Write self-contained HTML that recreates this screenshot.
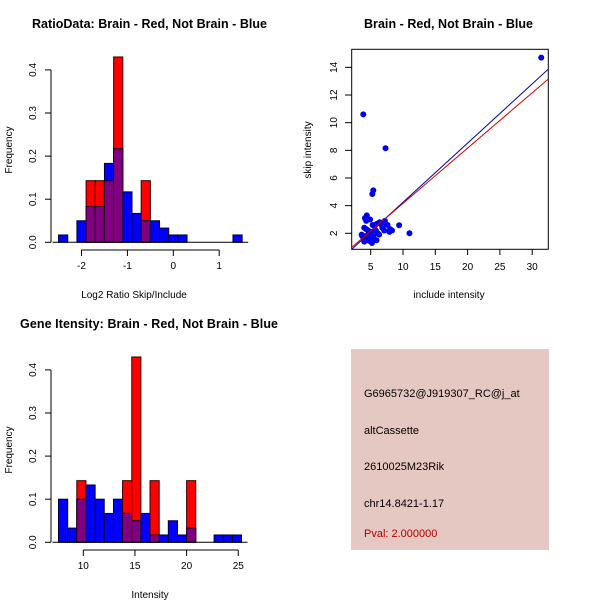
<!DOCTYPE html>
<html><head><meta charset="utf-8"><style>
body{margin:0;background:#fff;}
svg{display:block;font-family:"Liberation Sans",Arial,sans-serif;}
</style></head><body>
<svg id="c" width="600" height="600" viewBox="0 0 600 600" xmlns="http://www.w3.org/2000/svg">
<rect x="0" y="0" width="600" height="600" fill="#fff"/>
<text x="149.5" y="28" font-size="12.5" font-weight="bold" text-anchor="middle" textLength="235">RatioData: Brain - Red, Not Brain - Blue</text>
<text x="134" y="298" font-size="10" text-anchor="middle">Log2 Ratio Skip/Include</text>
<text x="12" y="150" font-size="10" text-anchor="middle" transform="rotate(-90 12 150)">Frequency</text>
<text x="448.5" y="28" font-size="12.5" font-weight="bold" text-anchor="middle" textLength="169">Brain - Red, Not Brain - Blue</text>
<text x="449" y="298" font-size="10" text-anchor="middle">include intensity</text>
<text x="311" y="150" font-size="10" text-anchor="middle" transform="rotate(-90 311 150)">skip intensity</text>
<text x="149" y="328" font-size="12.5" font-weight="bold" text-anchor="middle" textLength="258">Gene Itensity: Brain - Red, Not Brain - Blue</text>
<text x="150" y="598" font-size="10" text-anchor="middle">Intensity</text>
<text x="12" y="450" font-size="10" text-anchor="middle" transform="rotate(-90 12 450)">Frequency</text>
<rect x="351" y="349" width="198" height="201" fill="#e6c8c2"/>
<g font-size="11">
<text x="364" y="397">G6965732@J919307_RC@j_at</text>
<text x="364" y="434">altCassette</text>
<text x="364" y="470">2610025M23Rik</text>
<text x="364" y="507">chr14.8421-1.17</text>
<text x="364" y="537" fill="#b00000">Pval: 2.000000</text>
</g>
</svg>
<script>
// Ratio histogram data
const ratioBins = [-2.5,-2.3,-2.1,-1.9,-1.7,-1.5,-1.3,-1.1,-0.9,-0.7,-0.5,-0.3,-0.1,0.1,0.3,0.5,0.7,0.9,1.1,1.3];
const ratioRed  = [0,0,0,0.143,0.143,0.143,0.43,0,0,0.143,0,0,0,0,0,0,0,0,0,0];
const ratioBlue = [0.017,0,0.05,0.083,0.083,0.183,0.217,0.117,0.067,0.05,0.05,0.033,0.017,0.017,0,0,0,0,0,0.017];
const ratioXTicks = [-2,-1,0,1];
const freqTicks = [0,0.1,0.2,0.3,0.4];
// Intensity histogram data
const intBins = [7.6,8.49,9.37,10.26,11.14,12.03,12.92,13.8,14.69,15.57,16.46,17.35,18.23,19.12,20.0,20.89,21.78,22.66,23.55,24.43];
const intRed  = [0,0,0.143,0,0,0,0,0.143,0.43,0,0.143,0,0,0,0.143,0,0,0,0,0];
const intBlue = [0.1,0.033,0.1,0.133,0.1,0.067,0.1,0.067,0.05,0.067,0.017,0.017,0.05,0.017,0.033,0,0,0.017,0.017,0.017];
const intXTicks = [10,15,20,25];
// Scatter data
const incl = [31.4,3.85,7.3,5.4,5.25,11.0,9.4,4.0,4.3,4.6,5.0,5.3,5.6,6.0,6.4,6.8,7.2,7.6,8.0,3.6,3.9,4.2,4.5,4.8,5.1,5.5,5.9,6.3,6.7,7.1,4.1,4.4,4.7,5.0,5.4,5.8,4.0,4.6,5.2,6.1,6.9,8.3,3.7,4.9,5.7,7.9,4.3];
const skip = [14.7,10.6,8.15,5.1,4.84,2.0,2.58,2.4,2.9,2.2,1.9,2.6,2.5,2.7,2.8,2.4,2.9,2.6,2.3,1.9,1.6,1.8,1.5,1.7,2.1,1.6,1.5,1.9,2.6,2.2,3.1,3.3,2.0,1.4,1.8,2.2,1.4,1.6,1.3,2.0,2.5,2.2,1.8,3.0,2.6,2.1,2.3];
const scXTicks = [5,10,15,20,25,30];
const scYTicks = [2,4,6,8,10,12,14];
const blueFit = [-0.04,0.428];
const redFit = [0.16,0.4];

const svg = document.getElementById('c');
const NS = 'http://www.w3.org/2000/svg';
function mk(tag, attrs){const e=document.createElementNS(NS,tag);for(const k in attrs)e.setAttribute(k,attrs[k]);svg.appendChild(e);return e;}

function hist(prefix, bins, bw, red, blue, xs, ys, xTicks, y0){
  const n = bins.length;
  for(let i=0;i<n;i++){
    const x1=xs(bins[i]), x2=xs(bins[i]+bw);
    const r=red[i], b=blue[i], m=Math.min(r,b);
    if(r>0){const e=mk('rect',{x:x1,y:ys(r),width:x2-x1,height:ys(0)-ys(r),fill:'#ff0000',stroke:'#330000','stroke-width':1});
      
      }
    if(b>0){const e=mk('rect',{x:x1,y:ys(b),width:x2-x1,height:ys(0)-ys(b),fill:'#0000ff',stroke:'#000033','stroke-width':1});
      
      }
    if(m>0){const e=mk('rect',{x:x1,y:ys(m),width:x2-x1,height:ys(0)-ys(m),fill:'#800080',stroke:'#220022','stroke-width':1});
      
      }
  }
  const ax=mk('line',{x1:51,x2:51,y1:ys(0),y2:ys(0.4),stroke:'#000'});
  
  
  freqTicks.forEach(t=>{
    mk('line',{x1:45,x2:51,y1:ys(t),y2:ys(t),stroke:'#000'});
    const tx=mk('text',{x:36,y:ys(t),'font-size':10,'text-anchor':'middle',transform:`rotate(-90 36 ${ys(t)})`});
    tx.textContent=t.toFixed(1);
    
    
  });
  const bx=mk('line',{x1:xs(xTicks[0]),x2:xs(xTicks[xTicks.length-1]),y1:y0,y2:y0,stroke:'#000'});
  
  
  xTicks.forEach(t=>{
    mk('line',{x1:xs(t),x2:xs(t),y1:y0,y2:y0+6,stroke:'#000'});
    const tx=mk('text',{x:xs(t),y:y0+19,'font-size':10,'text-anchor':'middle'});
    tx.textContent=t;
    
    
  });
  mk('line',{x1:xs(bins[0])-6,x2:xs(bins[n-1]+bw)+6,y1:ys(0),y2:ys(0),stroke:'#000'});
}
hist('ratio', ratioBins, 0.2, ratioRed, ratioBlue, v=>173.3+45.9*v, f=>242.3-431*f, ratioXTicks, 250);
hist('intensity', intBins, 0.886, intRed, intBlue, v=>83.3+10.33*(v-10), f=>542.3-431*f, intXTicks, 550);

// scatter
const sx=v=>370.7+6.46*(v-5), sy=v=>233.3-13.83*(v-2);
const box=mk('rect',{x:351.7,y:49.3,width:196.6,height:200,fill:'none',stroke:'#000'});


scXTicks.forEach(t=>{
  mk('line',{x1:sx(t),x2:sx(t),y1:249.3,y2:255,stroke:'#000'});
  const tx=mk('text',{x:sx(t),y:270,'font-size':10,'text-anchor':'middle'});
  tx.textContent=t;
  
  
});
scYTicks.forEach(t=>{
  mk('line',{x1:345,x2:351.7,y1:sy(t),y2:sy(t),stroke:'#000'});
  const tx=mk('text',{x:337,y:sy(t),'font-size':10,'text-anchor':'middle',transform:`rotate(-90 337 ${sy(t)})`});
  tx.textContent=t;
  
  
});
const clip=mk('clipPath',{id:'sc'});
const cr=document.createElementNS(NS,'rect');cr.setAttribute('x',351.7);cr.setAttribute('y',49.3);cr.setAttribute('width',196.6);cr.setAttribute('height',200);clip.appendChild(cr);
incl.forEach((v,i)=>{
  const p=mk('circle',{cx:sx(v),cy:sy(skip[i]),r:3,fill:'#0000ee'});
  
  
});
const xa=2.06, xb=32.5;
const lb=mk('line',{x1:sx(xa),y1:sy(blueFit[0]+blueFit[1]*xa),x2:sx(xb),y2:sy(blueFit[0]+blueFit[1]*xb),stroke:'#000099','stroke-width':1,'clip-path':'url(#sc)'});


const lr=mk('line',{x1:sx(xa),y1:sy(redFit[0]+redFit[1]*xa),x2:sx(xb),y2:sy(redFit[0]+redFit[1]*xb),stroke:'#cc0000','stroke-width':1,'clip-path':'url(#sc)'});


</script>
</body></html>
